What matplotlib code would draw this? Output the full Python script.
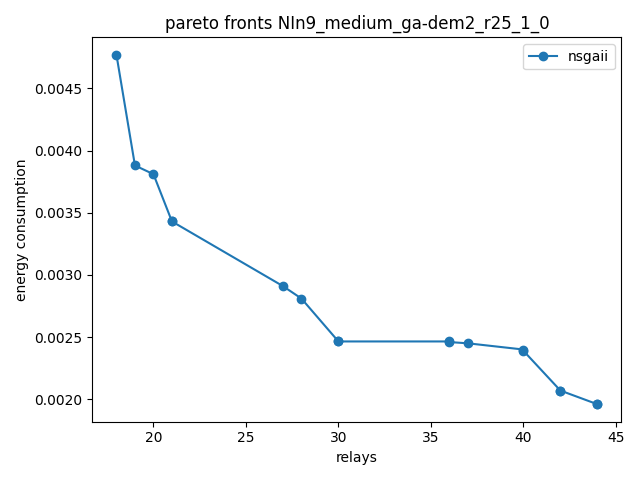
import matplotlib
matplotlib.use("Agg")
import matplotlib.pyplot as plt

relays = [18, 19, 20, 21, 21, 27, 28, 30, 30, 36, 36, 37, 40, 40, 42, 42, 44, 44]
energy = [0.00477, 0.00388, 0.00381, 0.00343, 0.00343, 0.00291, 0.00281,
          0.002465, 0.002465, 0.002465, 0.00246, 0.00245, 0.00240, 0.00239,
          0.00207, 0.00207, 0.00196, 0.00196]

fig, ax = plt.subplots(figsize=(6.4, 4.8), dpi=100)
ax.plot(relays, energy, marker='o', label='nsgaii')
ax.set_title('pareto fronts NIn9_medium_ga-dem2_r25_1_0')
ax.set_xlabel('relays')
ax.set_ylabel('energy consumption')
ax.legend()
fig.tight_layout()
fig.savefig('out.png')
